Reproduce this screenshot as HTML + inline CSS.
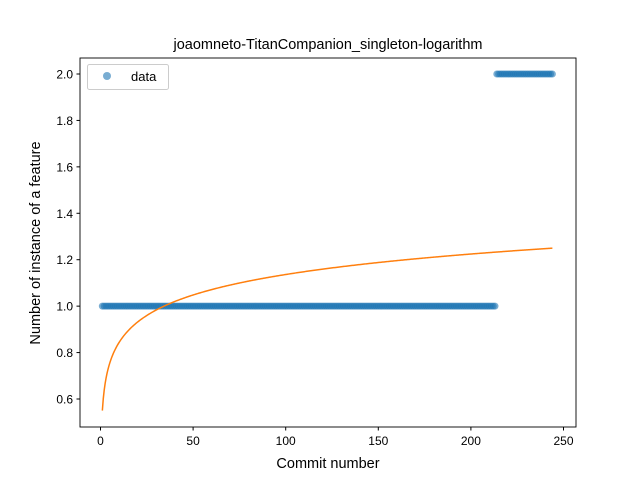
<!DOCTYPE html>
<html><head><meta charset="utf-8"><style>
body{margin:0;background:#fff}
svg{font-family:"Liberation Sans","DejaVu Sans",sans-serif}
</style></head><body>
<svg id="c" width="640" height="480" viewBox="0 0 640 480">
<rect x="0" y="0" width="640" height="480" fill="#fff"/>
<text x="328" y="49" text-anchor="middle" font-size="14.5">joaomneto-TitanCompanion_singleton-logarithm</text>
<g id="plot"></g>
<rect x="80" y="58" width="496" height="369" fill="none" stroke="#000" stroke-width="0.9"/>
<g id="ticks"></g>
<text x="328" y="468" text-anchor="middle" font-size="14.5">Commit number</text>
<text transform="translate(40,243) rotate(-90)" text-anchor="middle" font-size="14.5">Number of instance of a feature</text>
<g>
<rect x="87.5" y="64.5" width="81" height="25" rx="2" fill="#fff" stroke="#ccc" stroke-width="1"/>
<circle cx="107" cy="76" r="4" fill="#1f77b4" fill-opacity="0.6"/>
<text x="131" y="81" font-size="13">data</text>
</g>
</svg>
<script>
const commitsOne=[1,213];
const commitsTwo=[214,244];
const valueOne=[1];
const valueTwo=[2];
const fitParams=[0.55,0.1273];
const xTicks=[0,50,100,150,200,250];
const yTicks=[0.6,0.8,1.0,1.2,1.4,1.6,1.8,2.0];
const NS="http://www.w3.org/2000/svg";
function X(v){return 100.5+v*1.852;}
function Y(v){return 74+(2.0-v)*232.14;}
const plot=document.getElementById('plot');
const ticks=document.getElementById('ticks');
let pts="";
for(let x=1;x<=244;x+=0.5){
  const y=fitParams[0]+fitParams[1]*Math.log(x);
  pts+=X(x).toFixed(2)+","+Y(y).toFixed(2)+" ";
}
function addPts(range,val){
  for(let i=range[0];i<=range[1];i++){
    const c=document.createElementNS(NS,'circle');
    c.setAttribute('cx',X(i));c.setAttribute('cy',Y(val));c.setAttribute('r',3.5);
    c.setAttribute('fill','#1f77b4');c.setAttribute('fill-opacity','0.6');
    
    
    plot.appendChild(c);
  }
}
addPts(commitsOne,valueOne[0]);
addPts(commitsTwo,valueTwo[0]);
const pl=document.createElementNS(NS,'polyline');
pl.setAttribute('points',pts);pl.setAttribute('fill','none');
pl.setAttribute('stroke','#ff7f0e');pl.setAttribute('stroke-width','1.5');


plot.appendChild(pl);
xTicks.forEach(t=>{
  const l=document.createElementNS(NS,'line');
  l.setAttribute('x1',X(t));l.setAttribute('x2',X(t));l.setAttribute('y1',427);l.setAttribute('y2',430.5);
  l.setAttribute('stroke','#000');
  
  
  ticks.appendChild(l);
  const tx=document.createElementNS(NS,'text');
  tx.setAttribute('x',X(t));tx.setAttribute('y',445);tx.setAttribute('text-anchor','middle');tx.setAttribute('font-size','12');
  tx.textContent=t;
  
  
  ticks.appendChild(tx);
});
yTicks.forEach(t=>{
  const l=document.createElementNS(NS,'line');
  l.setAttribute('x1',76.5);l.setAttribute('x2',80);l.setAttribute('y1',Y(t));l.setAttribute('y2',Y(t));
  l.setAttribute('stroke','#000');
  
  
  ticks.appendChild(l);
  const tx=document.createElementNS(NS,'text');
  tx.setAttribute('x',73);tx.setAttribute('y',Y(t)+4.5);tx.setAttribute('text-anchor','end');tx.setAttribute('font-size','12');
  tx.textContent=t.toFixed(1);
  
  
  ticks.appendChild(tx);
});
</script>
</body></html>
